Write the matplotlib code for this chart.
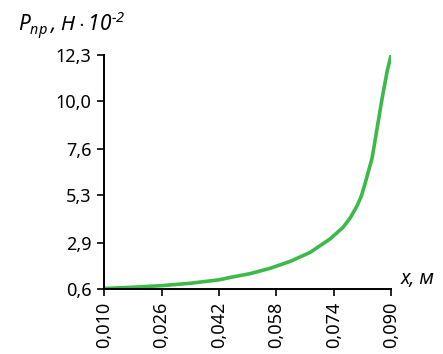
import matplotlib
matplotlib.use("Agg")
import matplotlib.pyplot as plt

# values
x_m = [0.0100, 0.0180, 0.0260, 0.0340, 0.0420, 0.0451, 0.0507, 0.0563,
       0.0618, 0.0674, 0.0730, 0.0766, 0.0786, 0.0805, 0.0817, 0.0827,
       0.0847, 0.0861, 0.0875, 0.0889, 0.0900]
p_pr = [0.62, 0.68, 0.76, 0.88, 1.05, 1.17, 1.36, 1.63,
        1.97, 2.42, 3.10, 3.68, 4.15, 4.75, 5.25, 5.85,
        7.15, 8.65, 10.15, 11.5, 12.3]

x_ticks = [0.010, 0.026, 0.042, 0.058, 0.074, 0.090]
y_ticks = [0.6, 2.9, 5.3, 7.6, 10.0, 12.3]

plt.rcParams["font.family"] = ["Noto Sans", "DejaVu Sans"]
plt.rcParams["mathtext.fontset"] = "custom"
plt.rcParams["mathtext.it"] = "Noto Sans:italic"
plt.rcParams["mathtext.rm"] = "Noto Sans:italic"

fig = plt.figure(figsize=(4.43, 3.54), dpi=100)
ax = fig.add_axes([0.235, 0.184, 0.648, 0.661])

ax.plot(x_m, p_pr, color="#3db94a", lw=2.6, solid_capstyle="round",
        solid_joinstyle="round")

ax.set_xlim(x_ticks[0], x_ticks[-1])
ax.set_ylim(y_ticks[0], y_ticks[-1])
ax.set_xticks(x_ticks)
ax.set_yticks(y_ticks)
ax.set_xticklabels([f"{v:.3f}".replace(".", ",") for v in x_ticks], rotation=90)
ax.set_yticklabels([f"{v:.1f}".replace(".", ",") for v in y_ticks])
ax.tick_params(labelsize=13, length=5, width=1.2, pad=4)

for s in ["top", "right"]:
    ax.spines[s].set_visible(False)
for s in ["left", "bottom"]:
    ax.spines[s].set_linewidth(1.4)

fig.text(0.04, 0.91, "$P_{пр}\\,$, $Н\\cdot 10^{\u22122}$", fontsize=15,
         style="italic")
fig.text(0.905, 0.183, "x, м", fontsize=14, style="italic", va="bottom")

fig.savefig("out.png", dpi=100)
